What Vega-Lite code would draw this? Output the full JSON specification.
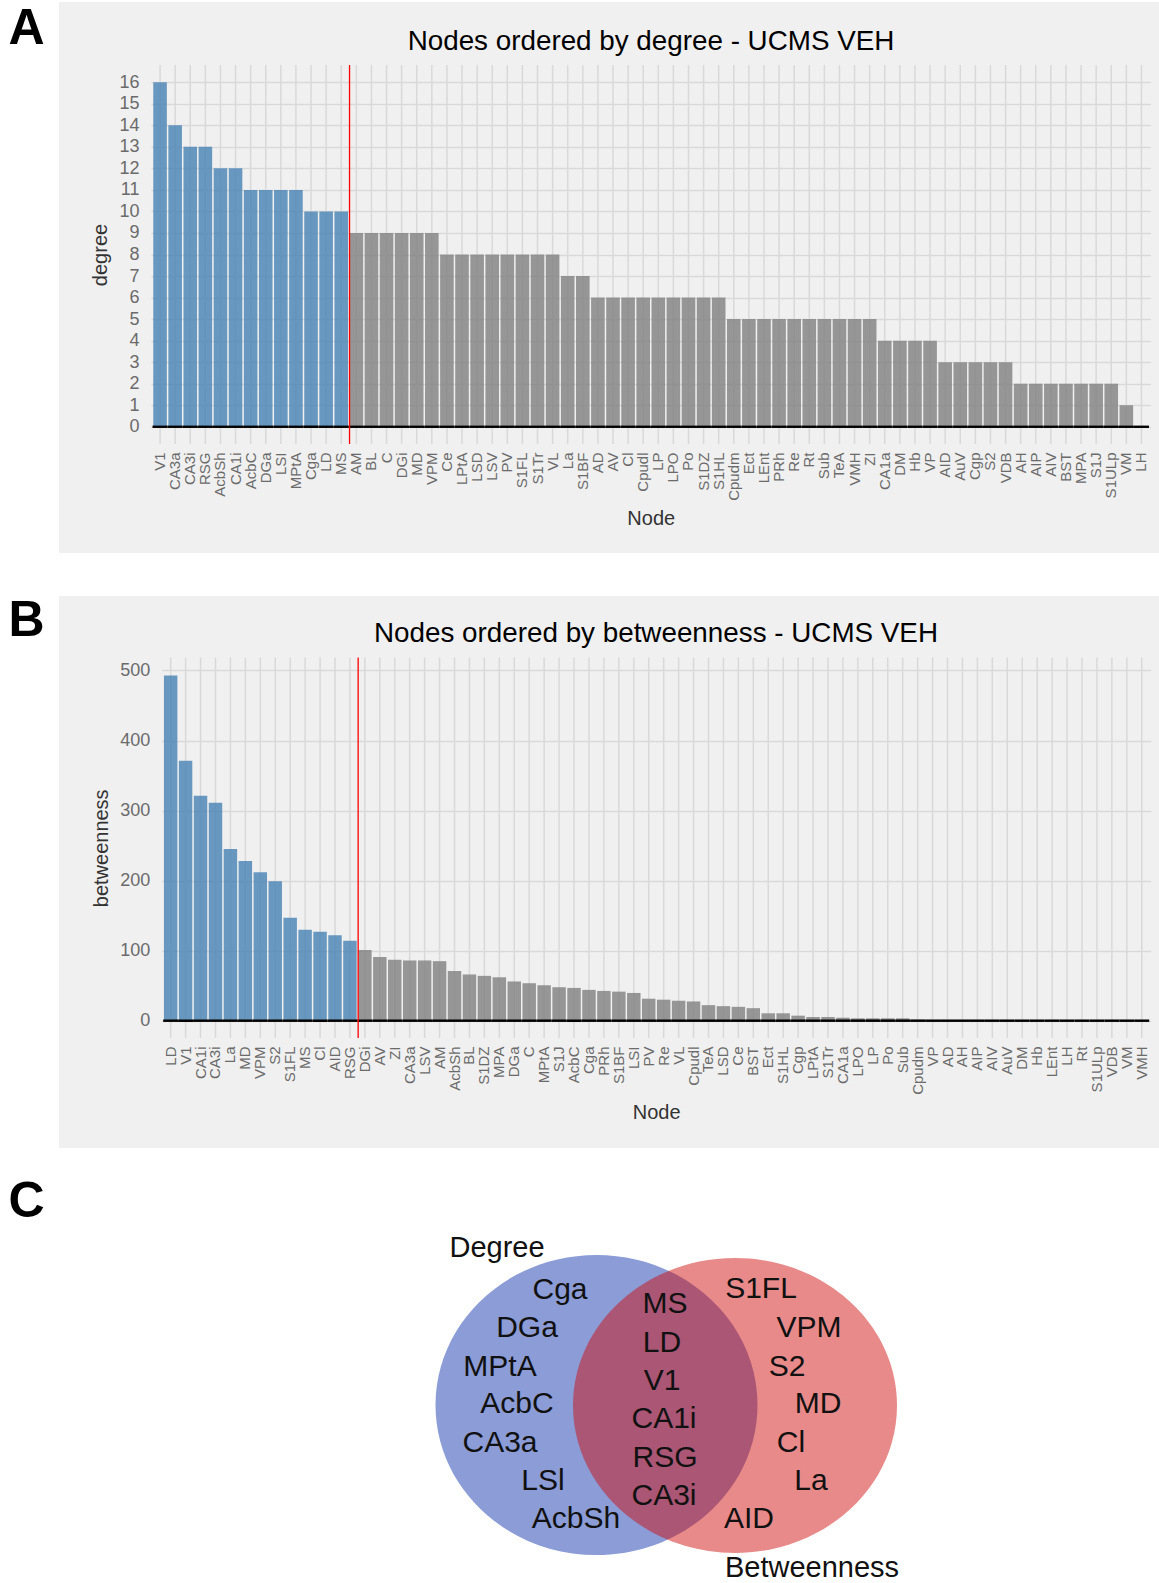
{
  "$schema": "https://vega.github.io/schema/vega-lite/v6.json",
  "padding": {"left": 0, "top": 2, "right": 0, "bottom": 0},
  "background": "white",
  "spacing": 28.7,
  "config": {"font": "Liberation Sans", "view": {"stroke": null}},
  "datasets": {
    "deg": [
      {"node": "V1", "degree": 16, "grp": "top"},
      {"node": "CA3a", "degree": 14, "grp": "top"},
      {"node": "CA3i", "degree": 13, "grp": "top"},
      {"node": "RSG", "degree": 13, "grp": "top"},
      {"node": "AcbSh", "degree": 12, "grp": "top"},
      {"node": "CA1i", "degree": 12, "grp": "top"},
      {"node": "AcbC", "degree": 11, "grp": "top"},
      {"node": "DGa", "degree": 11, "grp": "top"},
      {"node": "LSI", "degree": 11, "grp": "top"},
      {"node": "MPtA", "degree": 11, "grp": "top"},
      {"node": "Cga", "degree": 10, "grp": "top"},
      {"node": "LD", "degree": 10, "grp": "top"},
      {"node": "MS", "degree": 10, "grp": "top"},
      {"node": "AM", "degree": 9, "grp": "rest"},
      {"node": "BL", "degree": 9, "grp": "rest"},
      {"node": "C", "degree": 9, "grp": "rest"},
      {"node": "DGi", "degree": 9, "grp": "rest"},
      {"node": "MD", "degree": 9, "grp": "rest"},
      {"node": "VPM", "degree": 9, "grp": "rest"},
      {"node": "Ce", "degree": 8, "grp": "rest"},
      {"node": "LPtA", "degree": 8, "grp": "rest"},
      {"node": "LSD", "degree": 8, "grp": "rest"},
      {"node": "LSV", "degree": 8, "grp": "rest"},
      {"node": "PV", "degree": 8, "grp": "rest"},
      {"node": "S1FL", "degree": 8, "grp": "rest"},
      {"node": "S1Tr", "degree": 8, "grp": "rest"},
      {"node": "VL", "degree": 8, "grp": "rest"},
      {"node": "La", "degree": 7, "grp": "rest"},
      {"node": "S1BF", "degree": 7, "grp": "rest"},
      {"node": "AD", "degree": 6, "grp": "rest"},
      {"node": "AV", "degree": 6, "grp": "rest"},
      {"node": "Cl", "degree": 6, "grp": "rest"},
      {"node": "Cpudl", "degree": 6, "grp": "rest"},
      {"node": "LP", "degree": 6, "grp": "rest"},
      {"node": "LPO", "degree": 6, "grp": "rest"},
      {"node": "Po", "degree": 6, "grp": "rest"},
      {"node": "S1DZ", "degree": 6, "grp": "rest"},
      {"node": "S1HL", "degree": 6, "grp": "rest"},
      {"node": "Cpudm", "degree": 5, "grp": "rest"},
      {"node": "Ect", "degree": 5, "grp": "rest"},
      {"node": "LEnt", "degree": 5, "grp": "rest"},
      {"node": "PRh", "degree": 5, "grp": "rest"},
      {"node": "Re", "degree": 5, "grp": "rest"},
      {"node": "Rt", "degree": 5, "grp": "rest"},
      {"node": "Sub", "degree": 5, "grp": "rest"},
      {"node": "TeA", "degree": 5, "grp": "rest"},
      {"node": "VMH", "degree": 5, "grp": "rest"},
      {"node": "ZI", "degree": 5, "grp": "rest"},
      {"node": "CA1a", "degree": 4, "grp": "rest"},
      {"node": "DM", "degree": 4, "grp": "rest"},
      {"node": "Hb", "degree": 4, "grp": "rest"},
      {"node": "VP", "degree": 4, "grp": "rest"},
      {"node": "AID", "degree": 3, "grp": "rest"},
      {"node": "AuV", "degree": 3, "grp": "rest"},
      {"node": "Cgp", "degree": 3, "grp": "rest"},
      {"node": "S2", "degree": 3, "grp": "rest"},
      {"node": "VDB", "degree": 3, "grp": "rest"},
      {"node": "AH", "degree": 2, "grp": "rest"},
      {"node": "AIP", "degree": 2, "grp": "rest"},
      {"node": "AIV", "degree": 2, "grp": "rest"},
      {"node": "BST", "degree": 2, "grp": "rest"},
      {"node": "MPA", "degree": 2, "grp": "rest"},
      {"node": "S1J", "degree": 2, "grp": "rest"},
      {"node": "S1ULp", "degree": 2, "grp": "rest"},
      {"node": "VM", "degree": 1, "grp": "rest"},
      {"node": "LH", "degree": 0, "grp": "rest"}
    ],
    "btw": [
      {"node": "LD", "betweenness": 493, "grp": "top"},
      {"node": "V1", "betweenness": 371, "grp": "top"},
      {"node": "CA1i", "betweenness": 321, "grp": "top"},
      {"node": "CA3i", "betweenness": 311, "grp": "top"},
      {"node": "La", "betweenness": 245, "grp": "top"},
      {"node": "MD", "betweenness": 228, "grp": "top"},
      {"node": "VPM", "betweenness": 212, "grp": "top"},
      {"node": "S2", "betweenness": 199, "grp": "top"},
      {"node": "S1FL", "betweenness": 147, "grp": "top"},
      {"node": "MS", "betweenness": 130, "grp": "top"},
      {"node": "Cl", "betweenness": 127, "grp": "top"},
      {"node": "AID", "betweenness": 122, "grp": "top"},
      {"node": "RSG", "betweenness": 114, "grp": "top"},
      {"node": "DGi", "betweenness": 101, "grp": "rest"},
      {"node": "AV", "betweenness": 91, "grp": "rest"},
      {"node": "ZI", "betweenness": 87, "grp": "rest"},
      {"node": "CA3a", "betweenness": 86, "grp": "rest"},
      {"node": "LSV", "betweenness": 86, "grp": "rest"},
      {"node": "AM", "betweenness": 85, "grp": "rest"},
      {"node": "AcbSh", "betweenness": 71, "grp": "rest"},
      {"node": "BL", "betweenness": 66, "grp": "rest"},
      {"node": "S1DZ", "betweenness": 64, "grp": "rest"},
      {"node": "MPA", "betweenness": 62, "grp": "rest"},
      {"node": "DGa", "betweenness": 56, "grp": "rest"},
      {"node": "C", "betweenness": 53.5, "grp": "rest"},
      {"node": "MPtA", "betweenness": 50.6, "grp": "rest"},
      {"node": "S1J", "betweenness": 47.8, "grp": "rest"},
      {"node": "AcbC", "betweenness": 46.8, "grp": "rest"},
      {"node": "Cga", "betweenness": 44, "grp": "rest"},
      {"node": "PRh", "betweenness": 42.5, "grp": "rest"},
      {"node": "S1BF", "betweenness": 41.5, "grp": "rest"},
      {"node": "LSI", "betweenness": 39.6, "grp": "rest"},
      {"node": "PV", "betweenness": 31.4, "grp": "rest"},
      {"node": "Re", "betweenness": 30, "grp": "rest"},
      {"node": "VL", "betweenness": 28.5, "grp": "rest"},
      {"node": "Cpudl", "betweenness": 27.5, "grp": "rest"},
      {"node": "TeA", "betweenness": 22.2, "grp": "rest"},
      {"node": "LSD", "betweenness": 20.8, "grp": "rest"},
      {"node": "Ce", "betweenness": 19.8, "grp": "rest"},
      {"node": "BST", "betweenness": 17.9, "grp": "rest"},
      {"node": "Ect", "betweenness": 10.6, "grp": "rest"},
      {"node": "S1HL", "betweenness": 10.6, "grp": "rest"},
      {"node": "Cgp", "betweenness": 7.2, "grp": "rest"},
      {"node": "LPtA", "betweenness": 5.3, "grp": "rest"},
      {"node": "S1Tr", "betweenness": 5.3, "grp": "rest"},
      {"node": "CA1a", "betweenness": 4.3, "grp": "rest"},
      {"node": "LPO", "betweenness": 3.4, "grp": "rest"},
      {"node": "LP", "betweenness": 3.4, "grp": "rest"},
      {"node": "Po", "betweenness": 3.4, "grp": "rest"},
      {"node": "Sub", "betweenness": 3.4, "grp": "rest"},
      {"node": "Cpudm", "betweenness": 1.4, "grp": "rest"},
      {"node": "VP", "betweenness": 1, "grp": "rest"},
      {"node": "AD", "betweenness": 0.5, "grp": "rest"},
      {"node": "AH", "betweenness": 0, "grp": "rest"},
      {"node": "AIP", "betweenness": 0, "grp": "rest"},
      {"node": "AIV", "betweenness": 0, "grp": "rest"},
      {"node": "AuV", "betweenness": 0, "grp": "rest"},
      {"node": "DM", "betweenness": 0, "grp": "rest"},
      {"node": "Hb", "betweenness": 0, "grp": "rest"},
      {"node": "LEnt", "betweenness": 0, "grp": "rest"},
      {"node": "LH", "betweenness": 0, "grp": "rest"},
      {"node": "Rt", "betweenness": 0, "grp": "rest"},
      {"node": "S1ULp", "betweenness": 0, "grp": "rest"},
      {"node": "VDB", "betweenness": 0, "grp": "rest"},
      {"node": "VM", "betweenness": 0, "grp": "rest"},
      {"node": "VMH", "betweenness": 0, "grp": "rest"}
    ],
    "sets": [
      {"set": "Degree", "cx": 537.5, "cy": 228.3},
      {"set": "Betweenness", "cx": 676, "cy": 228.8}
    ],
    "vlabels": [
      {"label": "Degree", "kind": "set", "x": 438, "y": 80.3},
      {"label": "Betweenness", "kind": "set", "x": 753, "y": 400},
      {"label": "Cga", "kind": "node", "x": 501, "y": 122.6},
      {"label": "DGa", "kind": "node", "x": 468, "y": 160},
      {"label": "MPtA", "kind": "node", "x": 441, "y": 199},
      {"label": "AcbC", "kind": "node", "x": 458, "y": 236.6},
      {"label": "CA3a", "kind": "node", "x": 441, "y": 275},
      {"label": "LSl", "kind": "node", "x": 484, "y": 313.3},
      {"label": "AcbSh", "kind": "node", "x": 517, "y": 351.6},
      {"label": "MS", "kind": "node", "x": 606, "y": 136.6},
      {"label": "LD", "kind": "node", "x": 603, "y": 175},
      {"label": "V1", "kind": "node", "x": 603, "y": 213.3},
      {"label": "CA1i", "kind": "node", "x": 605, "y": 251.6},
      {"label": "RSG", "kind": "node", "x": 606, "y": 290},
      {"label": "CA3i", "kind": "node", "x": 605, "y": 328.3},
      {"label": "S1FL", "kind": "node", "x": 702, "y": 121.6},
      {"label": "VPM", "kind": "node", "x": 750, "y": 160},
      {"label": "S2", "kind": "node", "x": 728, "y": 199},
      {"label": "MD", "kind": "node", "x": 759, "y": 236.6},
      {"label": "Cl", "kind": "node", "x": 732, "y": 275},
      {"label": "La", "kind": "node", "x": 752, "y": 313.3},
      {"label": "AID", "kind": "node", "x": 690, "y": 351.6}
    ]
  },
  "vconcat": [
    {
      "spacing": 43,
      "vconcat": [
        {
          "bounds": "flush",
          "spacing": 6,
          "hconcat": [
            {
              "width": 53, "height": 54,
              "data": {"values": [{"panel": "A"}]},
              "mark": {"type": "text", "fontSize": 50, "fontWeight": "bold", "align": "center", "baseline": "middle", "color": "#000000"},
              "encoding": {"text": {"field": "panel"}}
            },
            {
              "width": 1100, "height": 551,
              "view": {"fill": "#f0f0f0", "stroke": null},
              "title": {"text": "Nodes ordered by degree - UCMS VEH", "fontSize": 27.8, "fontWeight": "normal", "color": "#000000", "anchor": "middle", "frame": "group", "offset": -76, "dx": 42, "baseline": "alphabetic"},
              "data": {"name": "deg"},
              "layer": [
                {
                  "mark": {"type": "rule", "color": "#d9d9d9", "strokeWidth": 1.5},
                  "encoding": {
                    "x": {"field": "node", "type": "nominal", "sort": null, "bandPosition": 0.5,
                      "scale": {"domain": ["V1","CA3a","CA3i","RSG","AcbSh","CA1i","AcbC","DGa","LSI","MPtA","Cga","LD","MS","AM","BL","C","DGi","MD","VPM","Ce","LPtA","LSD","LSV","PV","S1FL","S1Tr","VL","La","S1BF","AD","AV","Cl","Cpudl","LP","LPO","Po","S1DZ","S1HL","Cpudm","Ect","LEnt","PRh","Re","Rt","Sub","TeA","VMH","ZI","CA1a","DM","Hb","VP","AID","AuV","Cgp","S2","VDB","AH","AIP","AIV","BST","MPA","S1J","S1ULp","VM","LH"],
                        "range": [92, 1091.5], "paddingInner": 0.1, "paddingOuter": 0.15},
                      "axis": {"offset": -109, "grid": false, "domain": false, "ticks": false, "labelAngle": -90, "labelFontSize": 15, "labelColor": "#6b6b6b", "labelPadding": 8, "labelOverlap": false, "title": "Node", "titleFontSize": 20, "titleFontWeight": "normal", "titleColor": "#333333", "titlePadding": 8}},
                    "y": {"datum": -0.8},
                    "y2": {"datum": 16.8}
                  }
                },
                {
                  "mark": {"type": "bar", "opacity": 0.8},
                  "encoding": {
                    "x": {"field": "node", "type": "nominal", "sort": null},
                    "y": {"field": "degree", "type": "quantitative",
                      "scale": {"domain": [-0.8, 16.8], "range": [442, 63], "nice": false, "zero": false},
                      "axis": {"offset": -92, "values": [0,1,2,3,4,5,6,7,8,9,10,11,12,13,14,15,16], "tickCount": 17, "grid": true, "gridColor": "#d9d9d9", "gridWidth": 1.5, "domain": false, "ticks": false, "labelFontSize": 18, "labelColor": "#6b6b6b", "labelPadding": 12, "labelOverlap": false, "title": "degree", "titleFontSize": 20, "titleFontWeight": "normal", "titleColor": "#333333", "titlePadding": 8}},
                    "y2": {"datum": 0},
                    "color": {"field": "grp", "type": "nominal", "scale": {"domain": ["top", "rest"], "range": ["#4682b4", "#7f7f7f"]}, "legend": null}
                  }
                },
                {
                  "mark": {"type": "bar", "color": "#000000", "width": {"band": 1.111}},
                  "encoding": {
                    "x": {"field": "node", "type": "nominal", "sort": null},
                    "y": {"datum": -0.055},
                    "y2": {"datum": 0.055}
                  }
                },
                {
                  "transform": [{"filter": "datum.node == 'AM'"}],
                  "mark": {"type": "rule", "color": "#ff0000", "strokeWidth": 1.3},
                  "encoding": {
                    "x": {"field": "node", "type": "nominal", "sort": null, "bandPosition": 0},
                    "y": {"datum": -0.8},
                    "y2": {"datum": 16.8}
                  }
                }
              ]
            }
          ]
        },
        {
          "bounds": "flush",
          "spacing": 6,
          "hconcat": [
            {
              "width": 53, "height": 50,
              "data": {"values": [{"panel": "B"}]},
              "mark": {"type": "text", "fontSize": 50, "fontWeight": "bold", "align": "center", "baseline": "middle", "color": "#000000"},
              "encoding": {"text": {"field": "panel"}}
            },
            {
              "width": 1100, "height": 552,
              "view": {"fill": "#f0f0f0", "stroke": null},
              "title": {"text": "Nodes ordered by betweenness - UCMS VEH", "fontSize": 27.8, "fontWeight": "normal", "color": "#000000", "anchor": "middle", "frame": "group", "offset": -74, "dx": 47, "baseline": "alphabetic"},
              "data": {"name": "btw"},
              "layer": [
                {
                  "mark": {"type": "rule", "color": "#d9d9d9", "strokeWidth": 1.5},
                  "encoding": {
                    "x": {"field": "node", "type": "nominal", "sort": null, "bandPosition": 0.5,
                      "scale": {"domain": ["LD","V1","CA1i","CA3i","La","MD","VPM","S2","S1FL","MS","Cl","AID","RSG","DGi","AV","ZI","CA3a","LSV","AM","AcbSh","BL","S1DZ","MPA","DGa","C","MPtA","S1J","AcbC","Cga","PRh","S1BF","LSI","PV","Re","VL","Cpudl","TeA","LSD","Ce","BST","Ect","S1HL","Cgp","LPtA","S1Tr","CA1a","LPO","LP","Po","Sub","Cpudm","VP","AD","AH","AIP","AIV","AuV","DM","Hb","LEnt","LH","Rt","S1ULp","VDB","VM","VMH"],
                        "range": [102.7, 1091.7], "paddingInner": 0.1, "paddingOuter": 0.15},
                      "axis": {"offset": -110, "grid": false, "domain": false, "ticks": false, "labelAngle": -90, "labelFontSize": 15, "labelColor": "#6b6b6b", "labelPadding": 8, "labelOverlap": false, "title": "Node", "titleFontSize": 20, "titleFontWeight": "normal", "titleColor": "#333333", "titlePadding": 8}},
                    "y": {"datum": -24.7},
                    "y2": {"datum": 518.4}
                  }
                },
                {
                  "mark": {"type": "bar", "opacity": 0.8},
                  "encoding": {
                    "x": {"field": "node", "type": "nominal", "sort": null},
                    "y": {"field": "betweenness", "type": "quantitative",
                      "scale": {"domain": [-24.7, 518.4], "range": [442, 61.6], "nice": false, "zero": false},
                      "axis": {"offset": -102.7, "values": [0, 100, 200, 300, 400, 500], "grid": true, "gridColor": "#d9d9d9", "gridWidth": 1.5, "domain": false, "ticks": false, "labelFontSize": 18, "labelColor": "#6b6b6b", "labelPadding": 12, "labelOverlap": false, "title": "betweenness", "titleFontSize": 20, "titleFontWeight": "normal", "titleColor": "#333333", "titlePadding": 8}},
                    "y2": {"datum": 0},
                    "color": {"field": "grp", "type": "nominal", "scale": {"domain": ["top", "rest"], "range": ["#4682b4", "#7f7f7f"]}, "legend": null}
                  }
                },
                {
                  "mark": {"type": "bar", "color": "#000000", "width": {"band": 1.111}},
                  "encoding": {
                    "x": {"field": "node", "type": "nominal", "sort": null},
                    "y": {"datum": -1.75},
                    "y2": {"datum": 1.75}
                  }
                },
                {
                  "transform": [{"filter": "datum.node == 'DGi'"}],
                  "mark": {"type": "rule", "color": "#ff0000", "strokeWidth": 1.3},
                  "encoding": {
                    "x": {"field": "node", "type": "nominal", "sort": null, "bandPosition": 0},
                    "y": {"datum": -24.7},
                    "y2": {"datum": 518.4}
                  }
                }
              ]
            }
          ]
        }
      ]
    },
    {
      "bounds": "flush",
      "spacing": 6,
      "hconcat": [
        {
          "width": 53, "height": 50,
          "data": {"values": [{"panel": "C"}]},
          "mark": {"type": "text", "fontSize": 50, "fontWeight": "bold", "align": "center", "baseline": "middle", "color": "#000000"},
          "encoding": {"text": {"field": "panel"}}
        },
        {
          "width": 1100, "height": 406,
          "layer": [
            {
              "data": {"name": "sets"},
              "transform": [{"filter": "datum.set == 'Degree'"}],
              "mark": {"type": "point", "filled": true, "opacity": 1, "color": "#8b9cd6", "size": 103684,
                "shape": "M -1 0 C -1 -0.515 -0.5523 -0.932 0 -0.932 C 0.5523 -0.932 1 -0.515 1 0 C 1 0.515 0.5523 0.932 0 0.932 C -0.5523 0.932 -1 0.515 -1 0 Z"},
              "encoding": {
                "x": {"field": "cx", "type": "quantitative", "scale": {"domain": [0, 1100], "nice": false, "zero": false}, "axis": null},
                "y": {"field": "cy", "type": "quantitative", "scale": {"domain": [0, 406], "reverse": true, "nice": false, "zero": false}, "axis": null}
              }
            },
            {
              "data": {"name": "sets"},
              "transform": [{"filter": "datum.set == 'Betweenness'"}],
              "mark": {"type": "point", "filled": true, "opacity": 0.474, "color": "#ce0808", "size": 104976,
                "shape": "M -1 0 C -1 -0.503 -0.5523 -0.91 0 -0.91 C 0.5523 -0.91 1 -0.503 1 0 C 1 0.503 0.5523 0.91 0 0.91 C -0.5523 0.91 -1 0.503 -1 0 Z"},
              "encoding": {
                "x": {"field": "cx", "type": "quantitative"},
                "y": {"field": "cy", "type": "quantitative"}
              }
            },
            {
              "data": {"name": "vlabels"},
              "transform": [{"filter": "datum.kind == 'node'"}],
              "mark": {"type": "text", "fontSize": 30, "align": "center", "baseline": "alphabetic", "color": "#111111"},
              "encoding": {
                "x": {"field": "x", "type": "quantitative"},
                "y": {"field": "y", "type": "quantitative"},
                "text": {"field": "label"}
              }
            },
            {
              "data": {"name": "vlabels"},
              "transform": [{"filter": "datum.kind == 'set'"}],
              "mark": {"type": "text", "fontSize": 29, "align": "center", "baseline": "alphabetic", "color": "#111111"},
              "encoding": {
                "x": {"field": "x", "type": "quantitative"},
                "y": {"field": "y", "type": "quantitative"},
                "text": {"field": "label"}
              }
            }
          ]
        }
      ]
    }
  ]
}
